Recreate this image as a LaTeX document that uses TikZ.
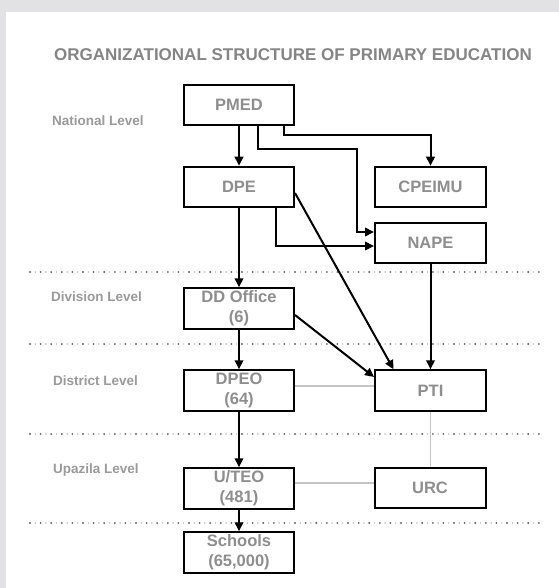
\documentclass[tikz,border=0pt]{standalone}
\usepackage{fontspec}
\setmainfont{Liberation Sans}
\usetikzlibrary{arrows.meta,calc}
\definecolor{frame}{HTML}{E2E2E4}
\definecolor{boxtext}{HTML}{8E8E8E}
\definecolor{lvltext}{HTML}{9A9A9A}
\definecolor{titletext}{HTML}{858585}
\definecolor{thin}{HTML}{C4C4C4}
\definecolor{dotc}{HTML}{666666}
\definecolor{dotd}{HTML}{999999}
\begin{document}
\begin{tikzpicture}[x=1bp,y=-1bp,
  orgbox/.style={draw=black,line width=2bp,minimum width=110bp,minimum height=40.5bp,inner sep=0pt,align=center,text=boxtext,font=\fontsize{16.5bp}{20bp}\selectfont\bfseries},
  lvl/.style={anchor=west,inner sep=0pt,text=lvltext,font=\fontsize{13.5bp}{15bp}\selectfont\bfseries},
  arr/.style={draw=black,line width=2bp,-{Triangle[length=9bp,width=8.5bp]}},
  link/.style={draw=thin,line width=1.4bp},
  dotline/.style={draw=dotc,line width=2.1bp,line cap=round,dash pattern=on 0pt off 10.6bp},
  dotline2/.style={draw=dotd,line width=1.4bp,line cap=round,dash pattern=on 0pt off 10.6bp,dash phase=5.3bp}
]
\useasboundingbox (0,0) rectangle (559,588);
\fill[white] (0,0) rectangle (559,588);
\fill[frame] (0,0) rectangle (559,12);
\fill[frame] (0,0) rectangle (6,588);

\node[inner sep=0pt,text=titletext,font=\fontsize{17bp}{19bp}\selectfont\bfseries] (title) at (293,55) {ORGANIZATIONAL STRUCTURE OF PRIMARY EDUCATION};

\node[lvl] (lnat) at (52,121) {National Level};
\node[lvl] (ldiv) at (51,297) {Division Level};
\node[lvl] (ldis) at (53,381) {District Level};
\node[lvl] (lupa) at (53,470) {Upazila Level};

\foreach \yy in {272,344,434,523}{
  \draw[dotline] (30,\yy) -- (540,\yy);
  \draw[dotline2] (30,\yy) -- (540,\yy);
}

\node[orgbox] (PMED) at (239,105) {PMED};
\node[orgbox] (DPE) at (239,187) {DPE};
\node[orgbox,minimum width=111bp] (CPEIMU) at (430.5,187) {CPEIMU};
\node[orgbox,minimum width=111bp] (NAPE) at (430.5,243) {NAPE};
\node[orgbox] (DD) at (239,308.5) {DD Office\\(6)};
\node[orgbox] (DPEO) at (239,390.5) {DPEO\\(64)};
\node[orgbox,minimum width=111bp] (PTI) at (430.5,390.5) {PTI};
\node[orgbox] (UTEO) at (239,488.5) {U/TEO\\(481)};
\node[orgbox,minimum width=111bp] (URC) at (430,488) {URC};
\node[orgbox] (SCH) at (239,552.5) {Schools\\(65,000)};

% thin grey links
\draw[link] ([yshift=4.5bp]DPEO.east) -- ([yshift=4.5bp]PTI.west);
\draw[link] (PTI.south) -- (PTI.south |- URC.north);
\draw[link] ([yshift=5.5bp]UTEO.east) -- ([yshift=5.5bp]UTEO.east -| URC.west);

% arrows
\draw[arr] (PMED.south) -- (DPE.north);
\draw[arr] ([xshift=19bp]PMED.south) |- (357,149) |- ([yshift=11bp]NAPE.west);
\draw[arr] ([xshift=45bp]PMED.south) -- ++(0,9) -| (CPEIMU.north);
\draw[arr] ([xshift=37bp]DPE.south) |- ([yshift=-3bp]NAPE.west);
\draw[arr] ([yshift=-6bp]DPE.east) -- ([xshift=-37bp]PTI.north);
\draw[arr] (DPE.south) -- (DD.north);
\draw[arr] (NAPE.south) -- (PTI.north);
\draw[arr] ([yshift=-6.5bp]DD.east) -- ([yshift=13.5bp]PTI.west);
\draw[arr] (DD.south) -- (DPEO.north);
\draw[arr] (DPEO.south) -- (UTEO.north);
\draw[arr] (UTEO.south) -- (SCH.north);
\end{tikzpicture}
\end{document}
